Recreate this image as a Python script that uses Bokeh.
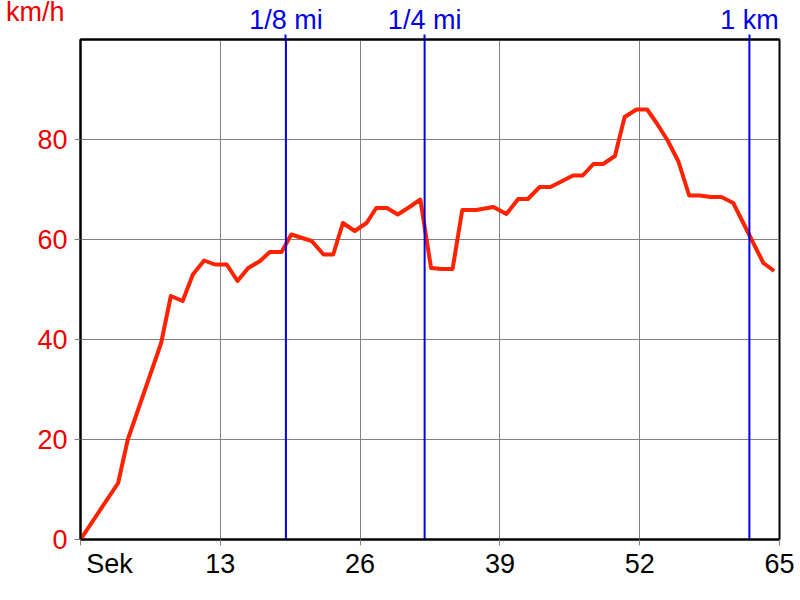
from bokeh.plotting import figure
from bokeh.layouts import column
from bokeh.models import Range1d, LinearAxis, FixedTicker
from bokeh.core.properties import value
from bokeh.embed import file_html
from bokeh.resources import INLINE

# speed trace (seconds, km/h)
t_sec = [0, 3.5, 4.4, 7.5, 8.4, 9.5, 10.45, 11.5, 12.5, 13.6, 14.6, 15.6, 16.7, 17.6, 18.7,
         19.6, 21.5, 22.6, 23.5, 24.4, 25.5, 26.6, 27.5, 28.5, 29.5, 30.6, 31.6, 32.6, 33.6,
         34.6, 35.5, 36.8, 38.4, 39.6, 40.7, 41.6, 42.7, 43.7, 44.8, 45.8, 46.7, 47.7, 48.6,
         49.7, 50.6, 51.7, 52.7, 53.6, 54.6, 55.6, 56.6, 57.6, 58.6, 59.6, 60.7, 62.1, 63.5, 64.5]
speed = [0, 11.3, 20, 39.3, 48.7, 47.7, 53, 55.8, 55, 55, 51.7, 54.3, 55.7, 57.5, 57.5,
         61, 59.7, 57, 57, 63.3, 61.7, 63.3, 66.3, 66.3, 65, 66.5, 68, 54.3, 54.1,
         54.1, 65.9, 65.9, 66.5, 65.1, 68.1, 68.1, 70.5, 70.5, 71.7, 72.8, 72.8, 75.1, 75.1,
         76.7, 84.5, 86, 86, 83.2, 79.8, 75.6, 68.8, 68.8, 68.5, 68.5, 67.3, 61.3, 55.3, 53.7]

marker_t = [19.1, 32.0, 62.2]
marker_labels = ["1/8 mi", "1/4 mi", "1 km"]

x_ticks = [0, 13, 26, 39, 52, 65]
x_label_pos = [2.7]          # where the "Sek" unit label sits
x_labels = ["Sek"]
y_ticks = [0, 20, 40, 60, 80]
unit_label = "km/h"

FONT = "Liberation Sans"
FS = "27px"
RED = "#F00000"
BLUE = "#0000E6"
GRAY = "#808080"

LEFT, FRAME_W, RIGHT = 80, 699, 17
HEAD_H = 30
HEAD_TEXT_Y = 11

# main chart
p = figure(frame_width=FRAME_W, frame_height=500,
           min_border_left=LEFT, min_border_top=5, min_border_right=RIGHT, min_border_bottom=52,
           x_range=Range1d(0, 65), y_range=Range1d(0, 100),
           output_backend="svg", toolbar_location=None,
           background_fill_color="white", border_fill_color="white")
p.outline_line_color = "black"
p.outline_line_width = 2
p.outline_line_alpha = 1.0

xa = p.xaxis[0]
xa.ticker = FixedTicker(ticks=x_label_pos + x_ticks[1:], minor_ticks=x_ticks)
xa.major_label_overrides = dict(zip(x_label_pos, x_labels))
xa.major_label_text_font = FONT
xa.major_label_text_font_size = FS
xa.major_label_text_color = "black"
xa.major_tick_line_color = None
xa.major_tick_out = 6
xa.major_tick_in = 0
xa.minor_tick_line_color = GRAY
xa.minor_tick_out = 6
xa.minor_tick_in = 0
xa.axis_line_color = "black"
xa.axis_line_width = 2
xa.major_label_standoff = 3

ya = p.yaxis[0]
ya.ticker = FixedTicker(ticks=y_ticks)
ya.major_label_text_font = FONT
ya.major_label_text_font_size = FS
ya.major_label_text_color = RED
ya.major_tick_line_color = GRAY
ya.major_tick_out = 6
ya.major_tick_in = 0
ya.minor_tick_line_color = None
ya.axis_line_color = "black"
ya.axis_line_width = 2
ya.major_label_standoff = 7

top = LinearAxis(ticker=FixedTicker(ticks=marker_t))
top.major_label_overrides = {t: " " for t in marker_t}
top.major_label_text_font_size = "1px"
top.major_label_standoff = 0
top.major_tick_line_color = BLUE
top.major_tick_line_width = 2
top.major_tick_out = 5
top.major_tick_in = 0
top.minor_tick_line_color = None
top.axis_line_color = "black"
top.axis_line_width = 2
p.add_layout(top, "above")

p.xgrid.ticker = FixedTicker(ticks=x_ticks[1:-1])
p.ygrid.ticker = FixedTicker(ticks=y_ticks[1:])
for g in (p.xgrid[0], p.ygrid[0]):
    g.grid_line_color = GRAY
    g.grid_line_width = 1
    g.grid_line_alpha = 1.0

p.line(t_sec, speed, line_width=4, line_color="#FF2200", line_join="round")
p.segment(x0=marker_t, y0=[0] * len(marker_t), x1=marker_t, y1=[100] * len(marker_t),
          line_color=BLUE, line_width=2)

# header strip: unit label on its left axis, distance-marker texts in its frame
h = figure(frame_width=FRAME_W, frame_height=HEAD_H,
           min_border_left=LEFT, min_border_right=RIGHT, min_border_top=0, min_border_bottom=0,
           x_range=p.x_range, y_range=Range1d(0, HEAD_H),
           x_axis_location=None,
           output_backend="svg", toolbar_location=None,
           background_fill_color="white", border_fill_color="white")
h.outline_line_color = None
h.grid.visible = False
hy = h.yaxis[0]
hy.ticker = FixedTicker(ticks=[HEAD_TEXT_Y])
hy.major_label_overrides = {HEAD_TEXT_Y: unit_label}
hy.major_label_text_font = FONT
hy.major_label_text_font_size = FS
hy.major_label_text_color = RED
hy.major_tick_line_color = None
hy.major_tick_out = 0
hy.major_tick_in = 0
hy.minor_tick_line_color = None
hy.axis_line_color = None
hy.major_label_standoff = 16
h.text(x=marker_t, y=[HEAD_TEXT_Y] * len(marker_t), text=marker_labels,
       text_align="center", text_baseline="middle", text_color=BLUE,
       text_font=value(FONT), text_font_size=value(FS))

layout = column(h, p, spacing=0)
open("out.html", "w").write(file_html(layout, INLINE))
